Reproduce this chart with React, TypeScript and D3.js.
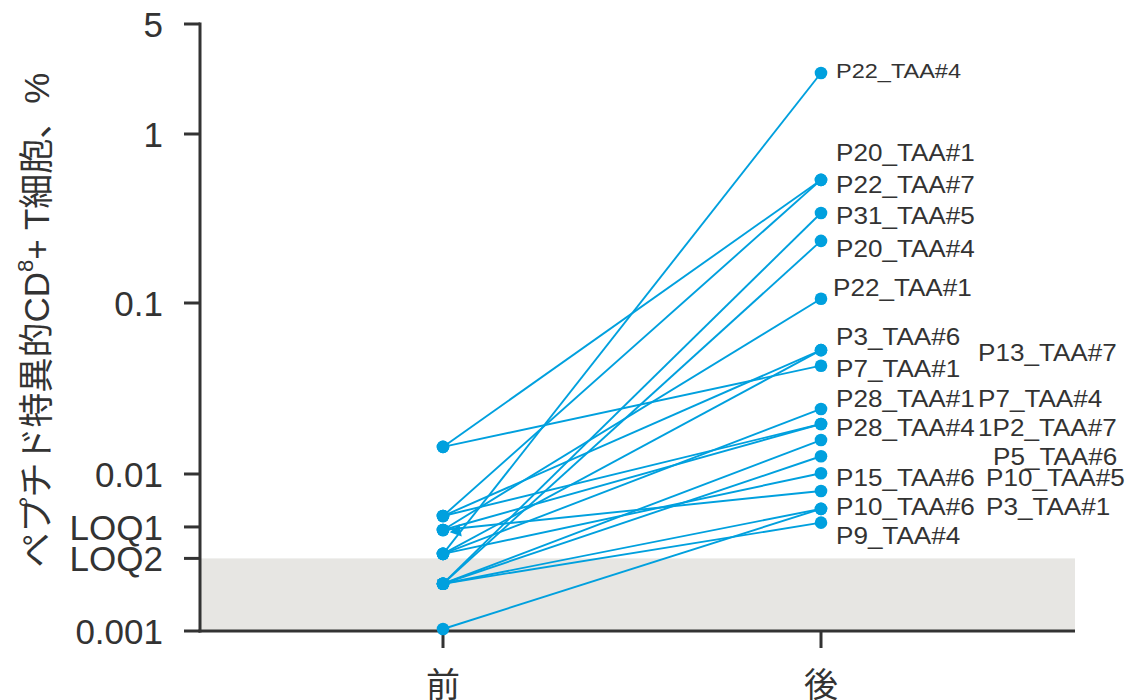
import React from "react";
import * as d3 from "d3";

// Sampling times on the x axis
const timepoints = ["前", "後"];

// One row per peptide / TAA pair
const peptides = [
  "P22_TAA#4", "P20_TAA#1", "P22_TAA#7", "P31_TAA#5", "P20_TAA#4", "P22_TAA#1",
  "P3_TAA#6", "P7_TAA#1", "P13_TAA#7", "P28_TAA#1", "P7_TAA#4", "P28_TAA#4",
  "1P2_TAA#7", "P5_TAA#6", "P15_TAA#6", "P10_TAA#5", "P10_TAA#6", "P3_TAA#1", "P9_TAA#4",
];

// Frequency of peptide-specific CD8+ T cells (%) before and after
const beforeValues = [
  0.0031, 0.0144, 0.0054, 0.002, 0.002, 0.0044,
  0.0031, 0.0144, 0.0054, 0.0031, 0.0054, 0.0044,
  0.002, 0.002, 0.0031, 0.0044, 0.00103, 0.002, 0.002,
];
const afterValues = [
  2.44, 0.535, 0.535, 0.341, 0.233, 0.106,
  0.053, 0.043, 0.053, 0.024, 0.0196, 0.0196,
  0.0158, 0.0127, 0.0101, 0.0078, 0.006, 0.006, 0.0049,
];

// Where each peptide name sits (value on the y axis) and in which text column
const labelValues = [
  2.55, 0.773, 0.499, 0.327, 0.211, 0.124,
  0.0632, 0.0411, 0.0516, 0.0275, 0.0275, 0.0186,
  0.0186, 0.0127, 0.00944, 0.00944, 0.00617, 0.00617, 0.00403,
];
const labelColumns = [0, 0, 0, 0, 0, 4, 0, 0, 1, 0, 1, 0, 1, 3, 0, 2, 0, 2, 0];

// Y axis ticks
const LOQ1 = 0.0046;
const LOQ2 = 0.0029;
const yTickValues = [5, 1, 0.1, 0.01, LOQ1, LOQ2, 0.001];
const yTickLabels = ["5", "1", "0.1", "0.01", "LOQ1", "LOQ2", "0.001"];

const BLUE = "#00a0de";
const INK = "#333333";
const FONT = "'Liberation Sans', Arial, 'Noto Sans CJK JP', sans-serif";

export default function App() {
  const width = 1132;
  const height = 700;
  const axisX = 200;
  const plotRight = 1075;

  // Log scale, piecewise per decade
  const y = d3
    .scaleLog()
    .domain([0.001, 0.01, 0.1, 1, 5])
    .range([631, 474, 303, 134, 24]);

  const x = d3.scalePoint<string>().domain(timepoints).range([443, 821]);

  const xb = x("前")!;
  const xa = x("後")!;
  const baseY = y(0.001);
  const colOffsets = [15, 157, 165, 172, 12];

  const tri = d3.symbol().type(d3.symbolTriangle).size(70)();

  return (
    <svg
      width={width}
      height={height}
      style={{ position: "absolute", left: 0, top: 0, background: "#fff" }}
      fontFamily={FONT}
    >
      {/* below-quantification band */}
      <rect
        x={axisX}
        y={y(LOQ2)}
        width={plotRight - axisX}
        height={baseY - y(LOQ2)}
        fill="#e7e6e3"
      />

      {/* y axis */}
      <line x1={axisX} x2={axisX} y1={y(5) - 1.5} y2={baseY + 1.5} stroke={INK} strokeWidth={3} />
      {yTickValues.map((v, i) => (
        <g key={yTickLabels[i]}>
          <line x1={axisX - 16} x2={axisX} y1={y(v)} y2={y(v)} stroke={INK} strokeWidth={3} />
          <text
            x={163}
            y={y(v)}
            dy="0.36em"
            textAnchor="end"
            fontSize={35}
            fill={INK}
          >
            {yTickLabels[i]}
          </text>
        </g>
      ))}

      {/* x axis */}
      <line x1={axisX - 1.5} x2={plotRight} y1={baseY} y2={baseY} stroke={INK} strokeWidth={3} />
      {timepoints.map((t) => (
        <g key={t}>
          <line x1={x(t)!} x2={x(t)!} y1={baseY} y2={baseY + 17} stroke={INK} strokeWidth={3} />
          <text x={x(t)!} y={697} textAnchor="middle" fontSize={34} fill={INK}>
            {t}
          </text>
        </g>
      ))}

      {/* y axis title */}
      <text
        transform={`translate(36, 320) rotate(-90)`}
        textAnchor="middle"
        dominantBaseline="central"
        fontSize={35}
        fill={INK}
      >
        ペプチド特異的CD
        <tspan fontSize={22} dy={-11}>8</tspan>
        <tspan dy={11}>+ T細胞、%</tspan>
      </text>

      {/* paired lines */}
      {peptides.map((p, i) => (
        <line
          key={`l-${p}`}
          x1={xb}
          y1={y(beforeValues[i])}
          x2={xa}
          y2={y(afterValues[i])}
          stroke={BLUE}
          strokeWidth={1.9}
        />
      ))}

      {/* points */}
      {peptides.map((p, i) => (
        <g key={`p-${p}`}>
          <circle cx={xb} cy={y(beforeValues[i])} r={6.3} fill={BLUE} />
          <circle cx={xa} cy={y(afterValues[i])} r={6.3} fill={BLUE} />
        </g>
      ))}

      {/* arrowhead on the P22_TAA#1 trace */}
      <path
        d={tri ?? ""}
        transform={`translate(${xb + 14}, ${y(beforeValues[5]) + 1}) rotate(-100)`}
        fill={BLUE}
      />

      {/* peptide names (the top one is set a size smaller) */}
      {peptides.map((p, i) => (
        <text
          key={`t-${p}`}
          transform={`translate(${xa + colOffsets[labelColumns[i]]}, ${y(labelValues[i])}) scale(1.12, 1)`}
          dy="0.36em"
          fontSize={i === 0 ? 21 : 23.3}
          fill={INK}
        >
          {p}
        </text>
      ))}
    </svg>
  );
}
